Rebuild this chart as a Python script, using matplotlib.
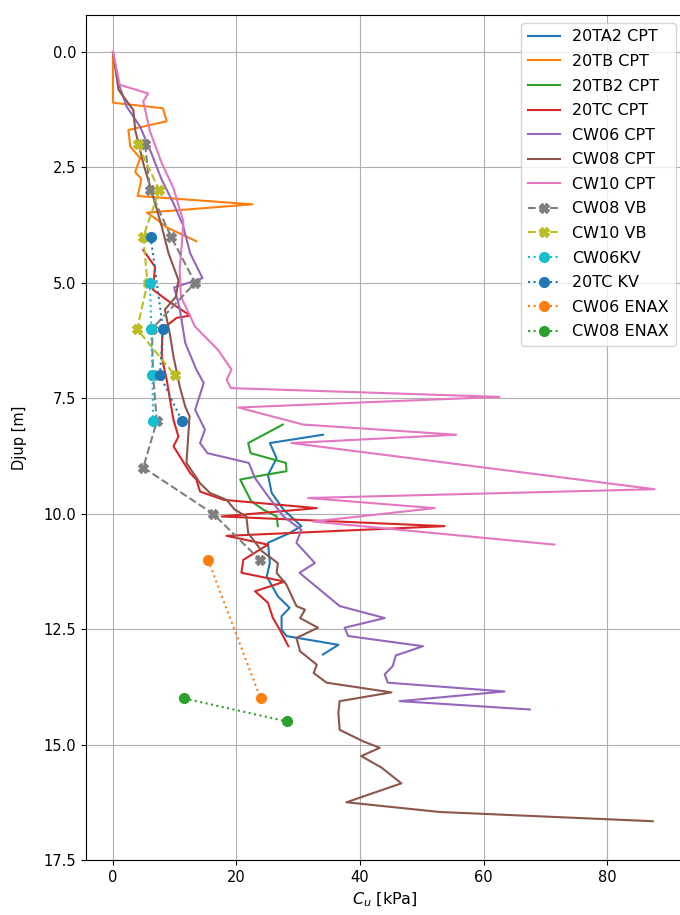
import numpy as np
import matplotlib
matplotlib.use('Agg')
import matplotlib.pyplot as plt

# CPT profiles: depth [m] and undrained shear strength [kPa]
ta2_d = [8.29, 8.47, 8.8, 9.16, 9.55, 9.91, 10.27, 10.42, 10.63, 11.07, 11.36, 11.79, 12.04, 12.22, 12.51, 12.65, 12.84, 13.05]
ta2_cu = [34.0, 25.4, 26.5, 25.1, 25.7, 27.6, 30.5, 28.6, 25.1, 25.4, 24.9, 26.7, 28.6, 27.3, 27.3, 28.1, 36.5, 34.0]

tb_d = [0.0, 1.1, 1.22, 1.5, 1.69, 2.05, 2.3, 2.6, 2.75, 3.12, 3.3, 3.48, 3.62, 3.8, 4.1]
tb_cu = [0.0, 0.0, 8.1, 8.7, 2.5, 2.8, 4.4, 3.6, 4.6, 4.0, 22.6, 5.5, 7.0, 8.7, 13.5]

tb2_d = [8.07, 8.47, 8.69, 8.9, 9.08, 9.16, 9.26, 9.5, 9.73, 9.91, 10.06, 10.27]
tb2_cu = [27.5, 21.9, 22.3, 28.0, 28.1, 24.6, 20.6, 21.5, 22.4, 24.3, 26.5, 26.7]

tc_d = [4.29, 4.65, 5.15, 5.4, 5.71, 5.76, 6.0, 6.6, 7.1, 7.5, 7.97, 8.33, 8.54, 9.12, 9.26, 9.52, 9.7,
        9.88, 10.06, 10.27, 10.48, 10.67, 11.0, 11.28, 11.47, 11.68, 11.93, 12.26, 12.51, 12.87]
tc_cu = [4.9, 6.8, 6.5, 9.0, 12.5, 10.3, 8.0, 7.9, 8.7, 9.2, 9.8, 10.6, 9.8, 12.5, 13.5, 14.1, 17.9,
         33.0, 17.6, 53.7, 18.4, 25.1, 21.1, 20.8, 27.8, 23.0, 25.1, 25.9, 27.0, 28.4]

cw06_d = [0.0, 0.68, 1.18, 1.62, 2.12, 2.77, 3.28, 3.74, 4.36, 4.9, 5.1, 5.55, 6.3, 6.88, 7.17, 7.75,
          8.18, 8.47, 8.69, 8.9, 9.23, 9.62, 10.06, 10.35, 10.63, 11.07, 11.28, 12.0, 12.26, 12.47,
          12.65, 12.87, 13.07, 13.3, 13.48, 13.66, 13.85, 14.06, 14.24]
cw06_cu = [0.0, 0.9, 2.2, 4.4, 6.0, 7.9, 9.8, 11.3, 12.5, 14.5, 9.9, 10.8, 11.7, 13.5, 14.7, 13.3,
           14.9, 14.1, 15.3, 22.0, 23.0, 25.1, 27.6, 30.5, 29.7, 32.7, 30.2, 36.7, 44.0, 37.5,
           38.1, 50.2, 45.8, 45.3, 44.0, 44.5, 63.4, 46.4, 67.5]

cw08_d = [0.0, 0.82, 1.26, 1.69, 2.41, 3.13, 3.78, 4.36, 4.94, 5.3, 5.58, 6.1, 6.6, 7.24, 7.68, 7.89,
          8.9, 9.34, 9.55, 9.7, 9.91, 10.06, 10.42, 10.81, 11.07, 11.28, 11.54, 12.0, 12.08, 12.26,
          12.47, 12.69, 12.98, 13.27, 13.45, 13.66, 13.87, 14.06, 14.31, 14.68, 14.93, 15.07, 15.25,
          15.5, 15.84, 16.25, 16.46, 16.66]
cw08_cu = [0.0, 0.9, 3.3, 3.6, 4.9, 6.5, 7.9, 9.0, 10.6, 10.2, 8.4, 9.2, 9.8, 10.8, 11.7, 12.4,
           11.9, 14.1, 15.7, 18.4, 19.7, 21.6, 21.9, 24.1, 26.7, 26.5, 28.1, 29.7, 31.1, 30.3,
           33.2, 29.7, 30.3, 33.0, 32.5, 34.6, 45.1, 36.7, 36.5, 36.7, 40.5, 43.2, 40.2,
           43.5, 46.7, 37.8, 52.9, 87.4]

cw10_d = [0.0, 0.71, 0.9, 1.07, 1.72, 2.41, 2.95, 3.67, 4.07, 4.72, 5.3, 5.95, 6.45, 6.88, 7.1, 7.28,
          7.47, 7.7, 8.07, 8.29, 8.47, 9.47, 9.66, 9.88, 10.17, 10.67]
cw10_cu = [0.0, 1.1, 5.7, 4.9, 6.0, 7.9, 9.8, 11.4, 11.2, 10.8, 11.0, 13.3, 17.0, 19.2, 18.4, 19.1,
           62.6, 20.3, 30.8, 55.6, 28.9, 87.7, 31.6, 52.1, 32.4, 71.5]

# vane tests
cw08vb_d = [2, 3, 4, 5, 6, 7, 8, 9, 10, 11]
cw08vb_cu = [5.2, 6.0, 9.4, 13.3, 6.3, 6.5, 7.1, 4.9, 16.2, 23.8]
cw10vb_d = [2, 3, 4, 5, 6, 7]
cw10vb_cu = [4.0, 7.5, 4.9, 5.6, 3.9, 10.0]

# fall cone
cw06kv_d = [5, 6, 7, 8]
cw06kv_cu = [6.0, 6.2, 6.4, 6.5]
tckv_d = [4, 6, 7, 8]
tckv_cu = [6.1, 8.1, 7.6, 11.2]

# direct simple shear
cw06enax_d = [11, 14]
cw06enax_cu = [15.4, 23.9]
cw08enax_d = [14.0, 14.5]
cw08enax_cu = [11.5, 28.2]

if __name__ == "__main__":
    plt.rcParams['font.size'] = 10.5

    fig = plt.figure(figsize=(6.8, 9.15), dpi=100)
    ax = fig.add_axes([85.8 / 680, 55 / 915, 597.8 / 680, 845 / 915])

    ax.plot(ta2_cu, ta2_d, label="20TA2 CPT")
    ax.plot(tb_cu, tb_d, label="20TB CPT")
    ax.plot(tb2_cu, tb2_d, label="20TB2 CPT")
    ax.plot(tc_cu, tc_d, label="20TC CPT")
    ax.plot(cw06_cu, cw06_d, label="CW06 CPT")
    ax.plot(cw08_cu, cw08_d, label="CW08 CPT")
    ax.plot(cw10_cu, cw10_d, label="CW10 CPT")
    ax.plot(cw08vb_cu, cw08vb_d, "X--", markersize=7, label="CW08 VB")
    ax.plot(cw10vb_cu, cw10vb_d, "X--", markersize=7, label="CW10 VB")
    ax.plot(cw06kv_cu, cw06kv_d, "o:", markersize=7, label="CW06KV")
    ax.plot(tckv_cu, tckv_d, "o:", markersize=7, label="20TC KV")
    ax.plot(cw06enax_cu, cw06enax_d, "o:", markersize=7, label="CW06 ENAX")
    ax.plot(cw08enax_cu, cw08enax_d, "o:", markersize=7, label="CW08 ENAX")

    ax.set_xlim(-4.4, 92.4)
    ax.set_ylim(17.5, -0.8)
    ax.set_yticks(np.arange(0, 17.6, 2.5))
    ax.grid(True)
    ax.set_xlabel(r"$C_u$ [kPa]", fontsize=11.5)
    ax.set_ylabel("Djup [m]", fontsize=10.5, labelpad=12)
    ax.legend(loc="upper right", fontsize=11.5, labelspacing=0.6)

    fig.savefig("out.png", dpi=100)
